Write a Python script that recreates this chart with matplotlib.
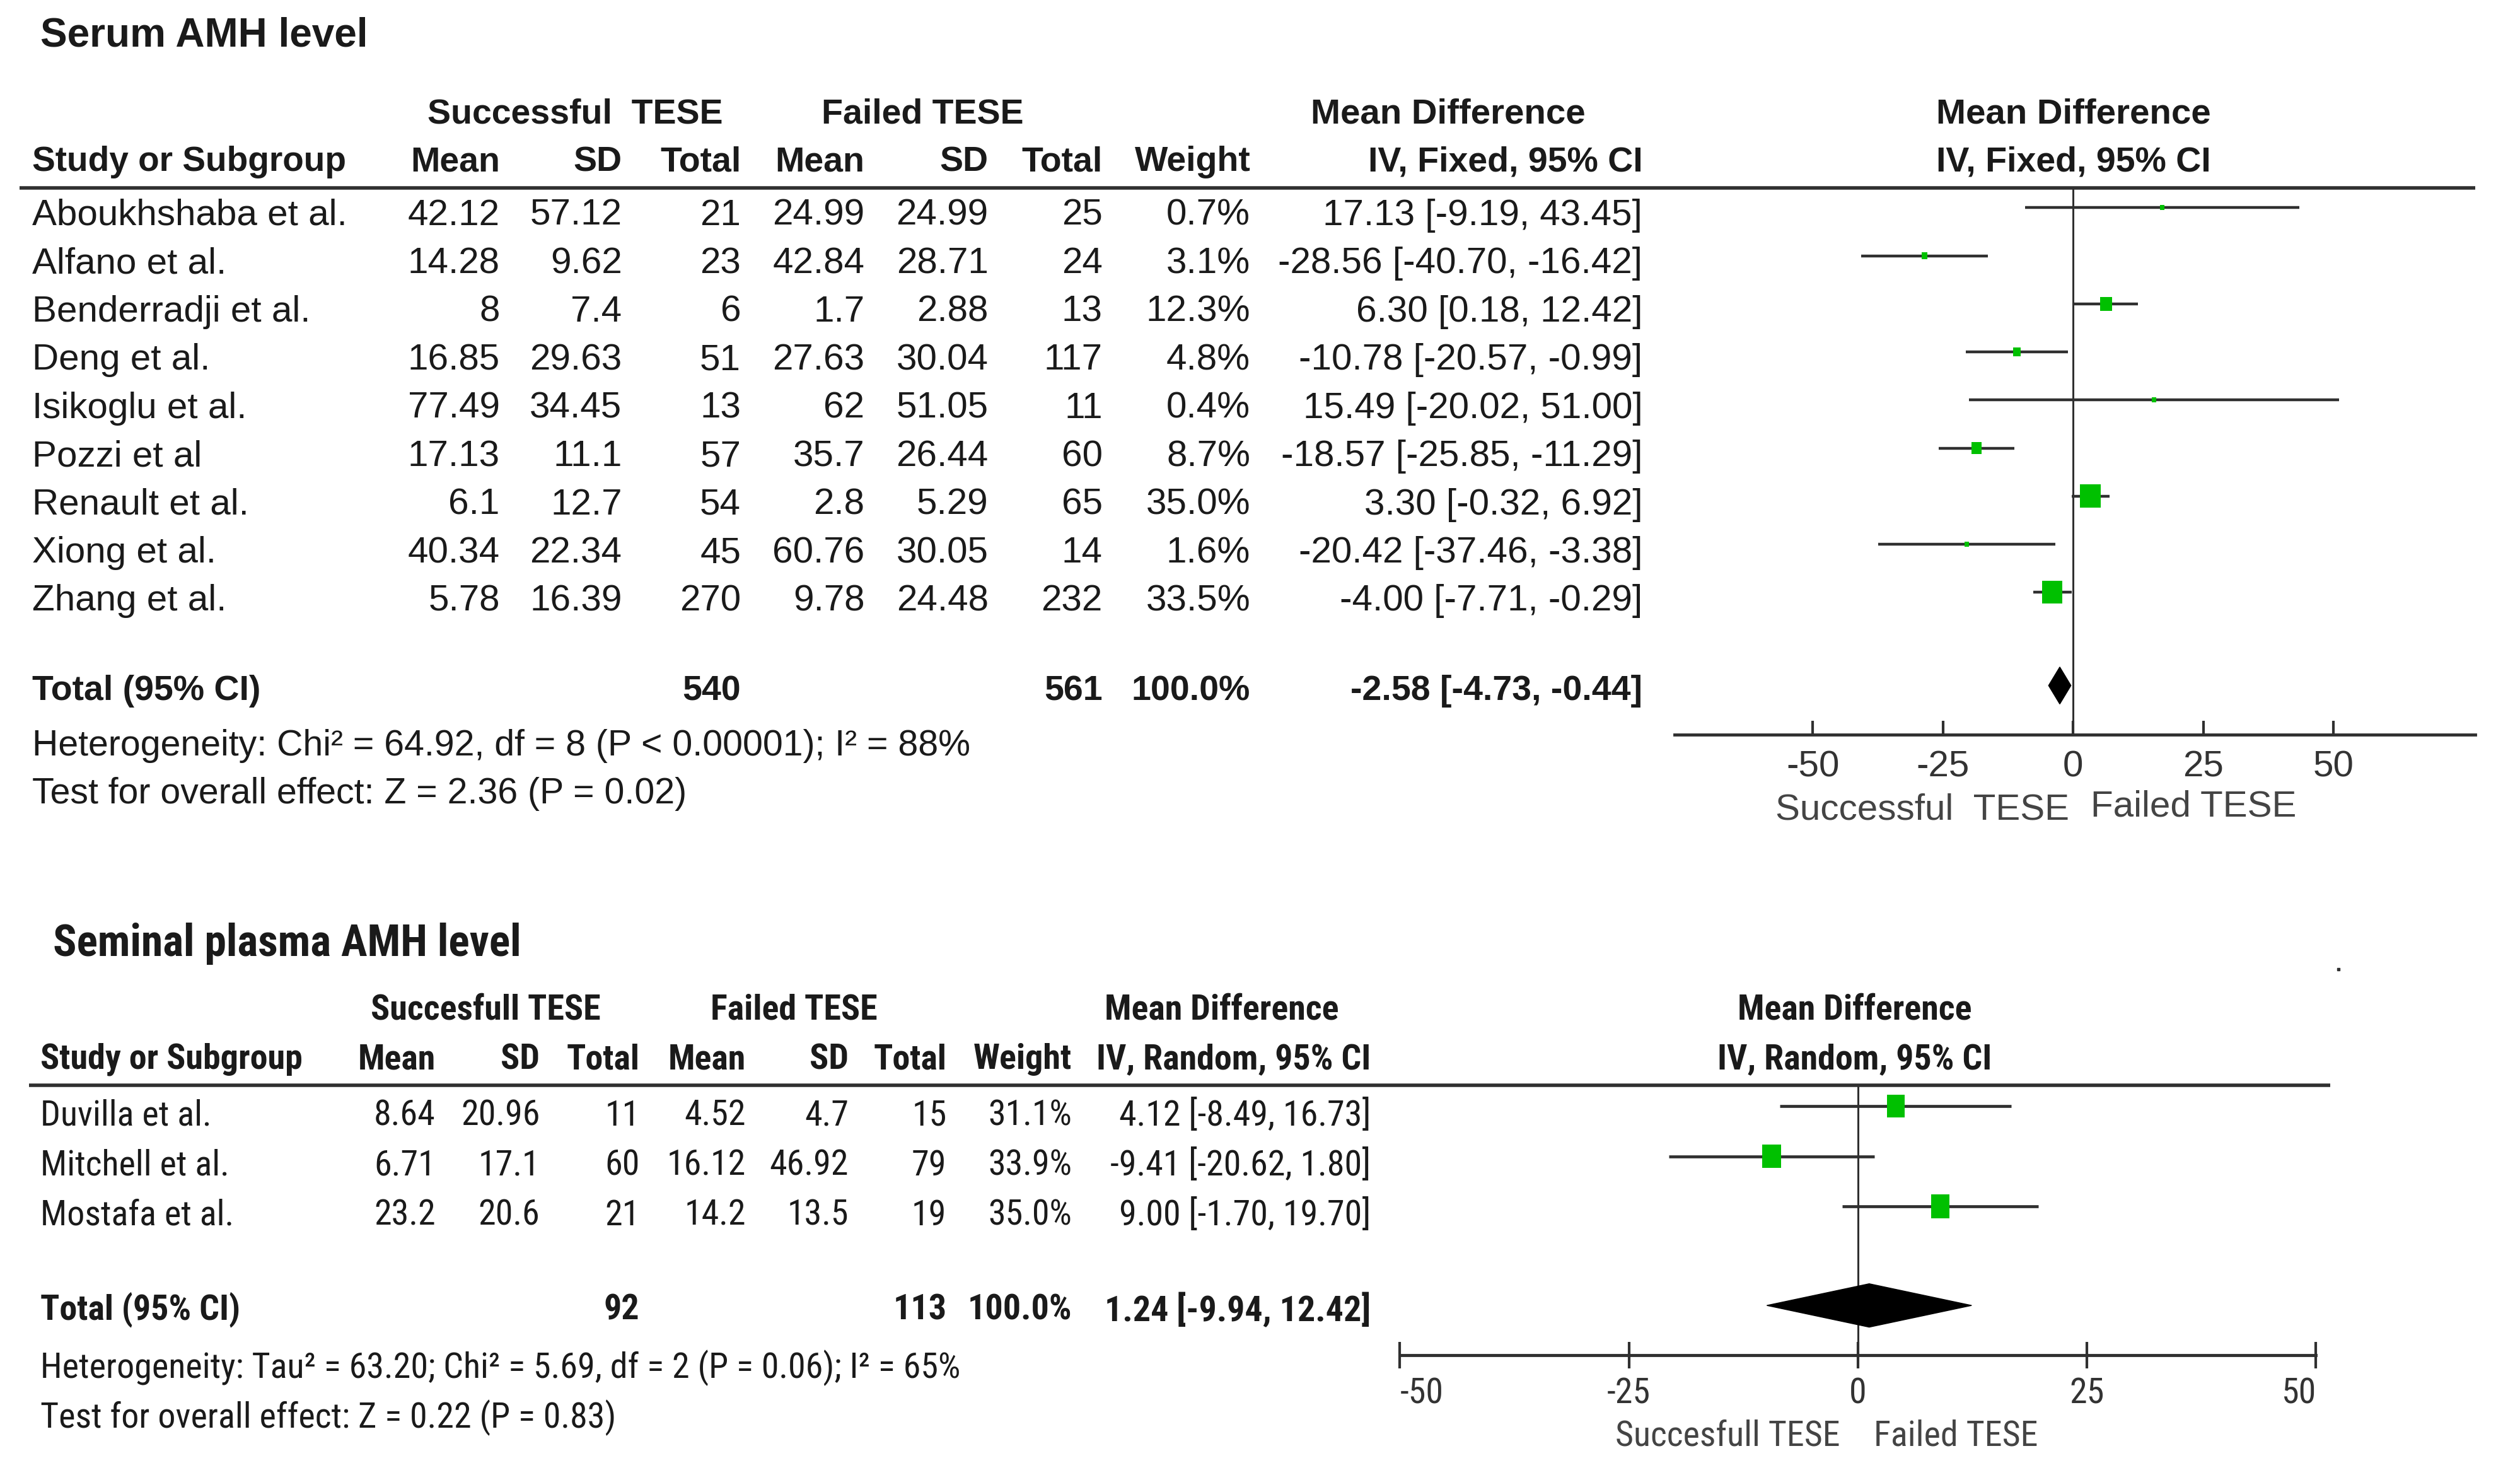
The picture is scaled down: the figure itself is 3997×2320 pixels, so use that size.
import matplotlib
matplotlib.use("Agg")
import matplotlib.pyplot as plt
from matplotlib import font_manager
from matplotlib.patches import Polygon
import numpy as np

# ---------------- data ----------------
top_studies = ["Aboukhshaba et al.", "Alfano et al.", "Benderradji et al.", "Deng et al.",
               "Isikoglu et al.", "Pozzi et al", "Renault et al.", "Xiong et al.", "Zhang et al."]
top_s_mean = [42.12, 14.28, 8, 16.85, 77.49, 17.13, 6.1, 40.34, 5.78]
top_s_sd = [57.12, 9.62, 7.4, 29.63, 34.45, 11.1, 12.7, 22.34, 16.39]
top_s_n = [21, 23, 6, 51, 13, 57, 54, 45, 270]
top_f_mean = [24.99, 42.84, 1.7, 27.63, 62, 35.7, 2.8, 60.76, 9.78]
top_f_sd = [24.99, 28.71, 2.88, 30.04, 51.05, 26.44, 5.29, 30.05, 24.48]
top_f_n = [25, 24, 13, 117, 11, 60, 65, 14, 232]
top_weight = [0.7, 3.1, 12.3, 4.8, 0.4, 8.7, 35.0, 1.6, 33.5]
top_md = [17.13, -28.56, 6.30, -10.78, 15.49, -18.57, 3.30, -20.42, -4.00]
top_lo = [-9.19, -40.70, 0.18, -20.57, -20.02, -25.85, -0.32, -37.46, -7.71]
top_hi = [43.45, -16.42, 12.42, -0.99, 51.00, -11.29, 6.92, -3.38, -0.29]
top_tot_s_n, top_tot_f_n, top_tot_w = 540, 561, 100.0
top_tot_md, top_tot_lo, top_tot_hi = -2.58, -4.73, -0.44
top_het = "Heterogeneity: Chi\u00b2 = 64.92, df = 8 (P < 0.00001); I\u00b2 = 88%"
top_test = "Test for overall effect: Z = 2.36 (P = 0.02)"

bot_studies = ["Duvilla et al.", "Mitchell et al.", "Mostafa et al."]
bot_s_mean = [8.64, 6.71, 23.2]
bot_s_sd = [20.96, 17.1, 20.6]
bot_s_n = [11, 60, 21]
bot_f_mean = [4.52, 16.12, 14.2]
bot_f_sd = [4.7, 46.92, 13.5]
bot_f_n = [15, 79, 19]
bot_weight = [31.1, 33.9, 35.0]
bot_md = [4.12, -9.41, 9.00]
bot_lo = [-8.49, -20.62, -1.70]
bot_hi = [16.73, 1.80, 19.70]
bot_tot_s_n, bot_tot_f_n, bot_tot_w = 92, 113, 100.0
bot_tot_md, bot_tot_lo, bot_tot_hi = 1.24, -9.94, 12.42
bot_het = "Heterogeneity: Tau\u00b2 = 63.20; Chi\u00b2 = 5.69, df = 2 (P = 0.06); I\u00b2 = 65%"
bot_test = "Test for overall effect: Z = 0.22 (P = 0.83)"

ticks = [-50, -25, 0, 25, 50]

# ---------------- fonts ----------------
entries = font_manager.fontManager.ttflist
names = {f.name for f in entries}
REG = "Liberation Sans" if "Liberation Sans" in names else "DejaVu Sans"

NAR, NSTR, nscale = REG, "normal", 0.82
for fam in ["Liberation Sans Narrow", "Arial Narrow", "Roboto Condensed", "Open Sans Condensed"]:
    if fam in names:
        NAR, NSTR, nscale = fam, "normal", 0.96
        break
else:
    for fam in ["Roboto", "Open Sans", "Noto Sans", "DejaVu Sans"]:
        cands = [f for f in entries if f.name == fam and str(f.stretch) in ("condensed", "semi-condensed", "extra-condensed")]
        if cands:
            NAR, NSTR, nscale = fam, "condensed", 0.92
            break

TXT = "#1a1a1a"
GREEN = "#00c000"
LINE = "#303030"
DY = 2.0

W, H = 1568.0, 910.0
fig = plt.figure(figsize=(39.97, 23.20), dpi=100)
ov = fig.add_axes([0, 0, 1, 1])
ov.set_xlim(0, W)
ov.set_ylim(H, 0)
ov.axis("off")


def T(x, y, s, fam, size, ha="left", bold=False, color=TXT, stretch="normal"):
    ov.text(x, y + DY, s, fontfamily=fam, fontsize=size, ha=ha, va="center",
            fontweight="bold" if bold else "normal", color=color, fontstretch=stretch)


def TN(x, y, s, size, ha="left", bold=False, color=TXT):
    T(x, y, s, NAR, size, ha=ha, bold=bold, color=color, stretch=NSTR)


def fmt(v):
    return f"{v:g}"


def ci(m, l, h):
    return f"{m:.2f} [{l:.2f}, {h:.2f}]"


# ================= TOP PANEL =================
fs, fb = 42, 40
T(25, 20, "Serum AMH level", REG, 46, bold=True)
T(358, 69, "Successful  TESE", REG, fb, ha="center", bold=True)
T(574, 69, "Failed TESE", REG, fb, ha="center", bold=True)
T(901, 69, "Mean Difference", REG, 40.6, ha="center", bold=True)
T(1290, 69, "Mean Difference", REG, 40.6, ha="center", bold=True)
cols_top = [311, 387, 461, 538, 615, 686, 778, 1022]
heads_top = ["Mean", "SD", "Total", "Mean", "SD", "Total", "Weight", "IV, Fixed, 95% CI"]
T(20, 99, "Study or Subgroup", REG, 39.6, bold=True)
for x, h in zip(cols_top, heads_top):
    T(x, 99, h, REG, fb, ha="right", bold=True)
T(1290, 99, "IV, Fixed, 95% CI", REG, fb, ha="center", bold=True)
ov.plot([12, 1540], [117, 117], color=LINE, lw=4, solid_capstyle="butt")

top_rows = [132 + 30 * i for i in range(len(top_studies))]
for i, y in enumerate(top_rows):
    T(20, y, top_studies[i], REG, fs)
    vals = [fmt(top_s_mean[i]), fmt(top_s_sd[i]), str(top_s_n[i]),
            fmt(top_f_mean[i]), fmt(top_f_sd[i]), str(top_f_n[i]),
            f"{top_weight[i]:.1f}%", ci(top_md[i], top_lo[i], top_hi[i])]
    for x, v in zip(cols_top, vals):
        T(x, y, v, REG, fs, ha="right")
ytot = 428
T(20, ytot, "Total (95% CI)", REG, fb, bold=True)
T(461, ytot, str(top_tot_s_n), REG, fb, ha="right", bold=True)
T(686, ytot, str(top_tot_f_n), REG, fb, ha="right", bold=True)
T(778, ytot, f"{top_tot_w:.1f}%", REG, fb, ha="right", bold=True)
T(1022, ytot, ci(top_tot_md, top_tot_lo, top_tot_hi), REG, fb, ha="right", bold=True)
T(20, 462, top_het, REG, 41.2)
T(20, 492, top_test, REG, 41.2)

# forest axes (top)
x0p, x1p, zp, upp = 1042, 1540, 1290, 3.24
yt, yb = 117, 457
ax1 = fig.add_axes([x0p / W, 1 - yb / H, (x1p - x0p) / W, (yb - yt) / H])
ax1.set_facecolor("none")
ax1.set_xlim((x0p - zp) / upp, (x1p - zp) / upp)
ax1.set_ylim(yb, yt)
for s in ["top", "left", "right"]:
    ax1.spines[s].set_visible(False)
ax1.spines["bottom"].set_linewidth(3.5)
ax1.spines["bottom"].set_color(LINE)
ax1.set_yticks([])
ax1.set_xticks(ticks)
ax1.set_xticklabels([str(t) for t in ticks], fontfamily=REG, fontsize=42, color="#333333")
ax1.tick_params(axis="x", direction="in", length=16, width=3, color=LINE, pad=17.5)
ax1.axvline(0, color=LINE, lw=2.2, zorder=1)
frows_top = [129.2 + 29.9 * i for i in range(len(top_studies))]
ax1.hlines(frows_top, top_lo, top_hi, color=LINE, lw=3.2, zorder=2)
sq = [(-0.45, -0.5), (0.45, -0.5), (0.45, 0.5), (-0.45, 0.5), (-0.45, -0.5)]
sizes = [(max(6.2 * np.sqrt(w), 8.0) * 0.72) ** 2 for w in top_weight]
ax1.scatter(top_md, frows_top, s=sizes, marker=sq, color=GREEN, linewidths=0, zorder=3)
fy_tot = 426.4
ax1.add_patch(Polygon([(top_tot_lo, fy_tot), (top_tot_md, fy_tot - 11.5), (top_tot_hi, fy_tot),
                       (top_tot_md, fy_tot + 11.5)], closed=True, color="black", zorder=3))
T(1196, 502, "Successful  TESE", REG, 42, ha="center", color="#444444")
T(1365, 500, "Failed TESE", REG, 42, ha="center", color="#444444")

# ================= BOTTOM PANEL =================
bs = 42 * nscale
TN(33, 585, "Seminal plasma AMH level", 48 * nscale / 0.92 * 1.0, bold=True)
TN(302, 626, "Succesfull TESE", bs, ha="center", bold=True)
TN(494, 626, "Failed TESE", bs, ha="center", bold=True)
TN(760, 626, "Mean Difference", bs, ha="center", bold=True)
TN(1154, 626, "Mean Difference", bs, ha="center", bold=True)
cols_bot = [271, 336, 398, 464, 528, 589, 667, 853]
heads_bot = ["Mean", "SD", "Total", "Mean", "SD", "Total", "Weight", "IV, Random, 95% CI"]
TN(25, 657, "Study or Subgroup", bs, bold=True)
for x, h in zip(cols_bot, heads_bot):
    TN(x, 657, h, bs, ha="right", bold=True)
TN(1154, 657, "IV, Random, 95% CI", bs, ha="center", bold=True)
ov.plot([18, 1450], [675, 675], color=LINE, lw=4, solid_capstyle="butt")

bot_rows = [692 + 31 * i for i in range(len(bot_studies))]
for i, y in enumerate(bot_rows):
    TN(25, y, bot_studies[i], bs)
    vals = [fmt(bot_s_mean[i]), fmt(bot_s_sd[i]), str(bot_s_n[i]),
            fmt(bot_f_mean[i]), fmt(bot_f_sd[i]), str(bot_f_n[i]),
            f"{bot_weight[i]:.1f}%", ci(bot_md[i], bot_lo[i], bot_hi[i])]
    for x, v in zip(cols_bot, vals):
        TN(x, y, v, bs, ha="right")
ytb = 813
TN(25, ytb, "Total (95% CI)", bs, bold=True)
TN(398, ytb, str(bot_tot_s_n), bs, ha="right", bold=True)
TN(589, ytb, str(bot_tot_f_n), bs, ha="right", bold=True)
TN(667, ytb, f"{bot_tot_w:.1f}%", bs, ha="right", bold=True)
TN(853, ytb, ci(bot_tot_md, bot_tot_lo, bot_tot_hi), bs, ha="right", bold=True)
TN(25, 849, bot_het, bs)
TN(25, 880, bot_test, bs)

# stray dot in the original figure
ov.plot([1455], [603], marker="s", ms=2.5, color=LINE, lw=0)

# forest axes (bottom)
bx0, bx1 = 871, 1441
byt, byb = 675, 843
ax2 = fig.add_axes([bx0 / W, 1 - byb / H, (bx1 - bx0) / W, (byb - byt) / H])
ax2.set_facecolor("none")
ax2.set_xlim(-50, 50)
ax2.set_ylim(byb, byt)
for s in ["top", "left", "right"]:
    ax2.spines[s].set_visible(False)
ax2.spines["bottom"].set_linewidth(3.5)
ax2.spines["bottom"].set_color(LINE)
ax2.set_yticks([])
ax2.set_xticks(ticks)
ax2.set_xticklabels([str(t) for t in ticks], fontfamily=NAR, fontstretch=NSTR, fontsize=bs, color="#333333")
ax2.tick_params(axis="x", direction="inout", length=30, width=3, color=LINE, pad=9.5)
tl = ax2.get_xticklabels()
tl[0].set_ha("left")
tl[-1].set_ha("right")
ax2.axvline(0, color=LINE, lw=2.2, zorder=1)
frows_bot = [688 + 31.2 * i for i in range(len(bot_studies))]
ax2.hlines(frows_bot, bot_lo, bot_hi, color=LINE, lw=3.4, zorder=2)
rect = [(-0.4, -0.5), (0.4, -0.5), (0.4, 0.5), (-0.4, 0.5), (-0.4, -0.5)]
bsizes = [(6.3 * np.sqrt(w) * 0.72) ** 2 for w in bot_weight]
ax2.scatter(bot_md, frows_bot, s=bsizes, marker=rect, color=GREEN, linewidths=0, zorder=3)
fyb_tot = 812
ax2.add_patch(Polygon([(bot_tot_lo, fyb_tot), (bot_tot_md, fyb_tot - 13.5), (bot_tot_hi, fyb_tot),
                       (bot_tot_md, fyb_tot + 13.5)], closed=True, color="black", zorder=3))
TN(1075, 891, "Succesfull TESE", bs, ha="center", color="#444444")
TN(1217, 891, "Failed TESE", bs, ha="center", color="#444444")

fig.savefig("out.png", dpi=100, facecolor="white")
